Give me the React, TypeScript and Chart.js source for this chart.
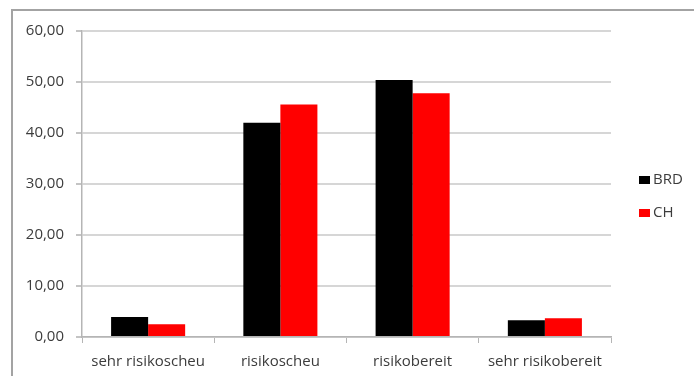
import React, { useEffect, useRef } from "react";
import { Chart, registerables } from "chart.js";

Chart.register(...registerables);

// Risk attitude categories and the share (%) per country
const categories = ["sehr risikoscheu", "risikoscheu", "risikobereit", "sehr risikobereit"];
const brdValues = [3.9, 42.0, 50.4, 3.3];
const chValues = [2.5, 45.6, 47.8, 3.7];
const seriesLabels = ["BRD", "CH"];
const seriesColors = ["#000000", "#ff0000"];

const FONT = "'Open Sans', 'DejaVu Sans', sans-serif";
const TEXT_COLOR = "#3c3c3c";

// Outer frame of the chart box (left and top edges)
const framePlugin = {
  id: "frame",
  beforeDraw(chart: Chart) {
    const ctx = chart.ctx;
    ctx.save();
    ctx.strokeStyle = "#a3a3a3";
    ctx.lineWidth = 2;
    ctx.beginPath();
    ctx.moveTo(12, chart.height + 2);
    ctx.lineTo(12, 10);
    ctx.lineTo(chart.width + 2, 10);
    ctx.stroke();
    ctx.restore();
  },
};

// Legend on the right, one square plus label per dataset
const sideLegendPlugin = {
  id: "sideLegend",
  afterDraw(chart: Chart) {
    const ctx = chart.ctx;
    const area = chart.chartArea;
    const x = area.right + 28;
    const firstY = area.top + 149;
    ctx.save();
    ctx.font = `15px ${FONT}`;
    ctx.textBaseline = "middle";
    ctx.textAlign = "left";
    chart.data.datasets.forEach((ds: any, i: number) => {
      const cy = firstY + i * 33;
      ctx.fillStyle = ds.backgroundColor as string;
      ctx.fillRect(x, cy - 4, 11, 8);
      ctx.fillStyle = TEXT_COLOR;
      ctx.fillText(ds.label, x + 14, cy);
    });
    ctx.restore();
  },
};

export default function App() {
  const canvasRef = useRef<HTMLCanvasElement | null>(null);

  useEffect(() => {
    if (!canvasRef.current) return;
    const chart = new Chart(canvasRef.current, {
      type: "bar",
      data: {
        labels: categories,
        datasets: [
          { label: seriesLabels[0], data: brdValues, backgroundColor: seriesColors[0] },
          { label: seriesLabels[1], data: chValues, backgroundColor: seriesColors[1] },
        ],
      },
      options: {
        responsive: false,
        animation: false,
        layout: { padding: { left: 0, right: 83, top: 31, bottom: 0 } },
        datasets: {
          bar: { categoryPercentage: 0.56, barPercentage: 1.0, borderWidth: 0 },
        },
        plugins: {
          legend: { display: false },
          tooltip: { enabled: false },
        },
        scales: {
          x: {
            afterFit(scale: any) {
              scale.height = 39;
            },
            grid: {
              display: true,
              drawOnChartArea: false,
              drawTicks: true,
              tickLength: 6,
              color: "#b5b5b5",
              offset: true,
            },
            border: { color: "#b5b5b5", width: 1.5 },
            ticks: {
              color: TEXT_COLOR,
              font: { family: FONT, size: 15 },
              padding: 10,
              maxRotation: 0,
              autoSkip: false,
            },
          },
          y: {
            min: 0,
            max: 60,
            afterFit(scale: any) {
              scale.width = 82;
            },
            grid: {
              color: "#d6d6d6",
              lineWidth: 2,
              drawTicks: true,
              tickLength: 6,
              tickColor: "#c4c4c4",
            },
            border: { color: "#b5b5b5", width: 1.5 },
            ticks: {
              stepSize: 10,
              color: TEXT_COLOR,
              font: { family: FONT, size: 15 },
              padding: 12,
              callback: (v: any) => Number(v).toFixed(2).replace(".", ","),
            },
          },
        },
      },
      plugins: [framePlugin, sideLegendPlugin],
    });
    return () => chart.destroy();
  }, []);

  return (
    <div style={{ position: "fixed", left: 0, top: 0, width: 694, height: 376, background: "#ffffff" }}>
      <canvas ref={canvasRef} width={694} height={376} style={{ display: "block" }} />
    </div>
  );
}
